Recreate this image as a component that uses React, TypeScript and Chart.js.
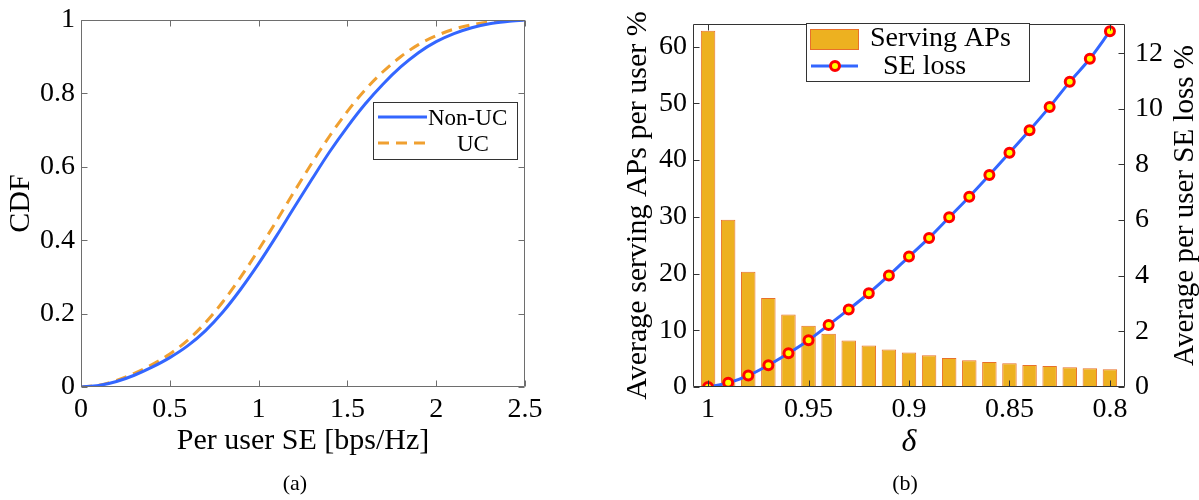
import React, { useEffect, useRef } from 'react';
import { Chart, registerables } from 'chart.js';

Chart.register(...registerables);

const FONT_FAMILY = '"Liberation Serif", "Times New Roman", Times, serif';

// ---------- (a) CDF data ----------
const seValues = [0, 0.1, 0.2, 0.3, 0.4, 0.5, 0.6, 0.7, 0.8, 0.9, 1.0, 1.1, 1.2, 1.3, 1.4, 1.5, 1.6, 1.7, 1.8, 1.9, 2.0, 2.1, 2.2, 2.3, 2.4, 2.5];
const cdfNonUC = [0, 0.004, 0.015, 0.032, 0.054, 0.08, 0.112, 0.153, 0.205, 0.267, 0.336, 0.411, 0.489, 0.566, 0.641, 0.709, 0.771, 0.825, 0.872, 0.911, 0.941, 0.963, 0.979, 0.99, 0.996, 1.0];
const cdfUC = [0, 0.005, 0.018, 0.037, 0.061, 0.09, 0.127, 0.175, 0.233, 0.3, 0.374, 0.452, 0.532, 0.61, 0.684, 0.751, 0.81, 0.859, 0.9, 0.933, 0.957, 0.975, 0.987, 0.995, 0.999, 1.0];
const cdfLabels = ['Non-UC', 'UC'];
const cdfXTicks = [0, 0.5, 1, 1.5, 2, 2.5];
const cdfXTickLabels = ['0', '0.5', '1', '1.5', '2', '2.5'];
const cdfYTicks = [0, 0.2, 0.4, 0.6, 0.8, 1];
const cdfYTickLabels = ['0', '0.2', '0.4', '0.6', '0.8', '1'];

// ---------- (b) delta data ----------
const deltas = [1, 0.99, 0.98, 0.97, 0.96, 0.95, 0.94, 0.93, 0.92, 0.91, 0.9, 0.89, 0.88, 0.87, 0.86, 0.85, 0.84, 0.83, 0.82, 0.81, 0.8];
const servingAPs = [62.8, 29.5, 20.3, 15.7, 12.8, 10.8, 9.4, 8.2, 7.3, 6.6, 6.1, 5.6, 5.1, 4.7, 4.4, 4.2, 3.9, 3.7, 3.5, 3.3, 3.15];
const seLoss = [0, 0.15, 0.41, 0.78, 1.21, 1.68, 2.23, 2.79, 3.37, 4.01, 4.69, 5.36, 6.1, 6.84, 7.62, 8.42, 9.23, 10.07, 10.97, 11.8, 12.79];
const deltaLabels = ['Serving APs', 'SE loss'];
const deltaTicks = [1, 0.95, 0.9, 0.85, 0.8];
const deltaTickLabels = ['1', '0.95', '0.9', '0.85', '0.8'];
const apTicks = [0, 10, 20, 30, 40, 50, 60];
const apTickLabels = ['0', '10', '20', '30', '40', '50', '60'];
const lossTicks = [0, 2, 4, 6, 8, 10, 12];
const lossTickLabels = ['0', '2', '4', '6', '8', '10', '12'];

const titles = {
  cdfX: 'Per user SE [bps/Hz]',
  cdfY: 'CDF',
  deltaX: 'δ',
  apY: 'Average serving APs per user %',
  lossY: 'Average per user SE loss %',
  a: '(a)',
  b: '(b)',
};

const tickFont = { family: FONT_FAMILY, size: 28, lineHeight: 1 };
const titleFont = { family: FONT_FAMILY, size: 30, lineHeight: 1 };

function labelFor(ticks: number[], labels: string[]) {
  return (v: any) => {
    const i = ticks.findIndex((t) => Math.abs(t - v) < 1e-9);
    return i >= 0 ? labels[i] : '';
  };
}

function setTicks(list: number[]) {
  return (s: any) => {
    s.ticks = list.map((v) => ({ value: v }));
  };
}

function framePlugin(cfg: {
  color: string;
  x: string;
  xTicks: number[];
  left: string;
  leftTicks: number[];
  right: string;
  rightTicks: number[];
  len: number;
}) {
  return {
    id: 'frame',
    afterDatasetsDraw(chart: any) {
      const { ctx, chartArea: a } = chart;
      const xs = chart.scales[cfg.x];
      const ls = chart.scales[cfg.left];
      const rs = chart.scales[cfg.right];
      const L = Math.round(a.left) + 0.5;
      const R = Math.round(a.right) - 0.5;
      const T = Math.round(a.top) + 0.5;
      const B = Math.round(a.bottom) - 0.5;
      ctx.save();
      ctx.strokeStyle = cfg.color;
      ctx.lineWidth = 1;
      ctx.setLineDash([]);
      ctx.beginPath();
      ctx.rect(L, T, R - L, B - T);
      for (const v of cfg.xTicks) {
        const p = Math.round(xs.getPixelForValue(v)) + 0.5;
        ctx.moveTo(p, B);
        ctx.lineTo(p, B - cfg.len);
        ctx.moveTo(p, T);
        ctx.lineTo(p, T + cfg.len);
      }
      for (const v of cfg.leftTicks) {
        const p = Math.round(ls.getPixelForValue(v)) + 0.5;
        ctx.moveTo(L, p);
        ctx.lineTo(L + cfg.len, p);
      }
      for (const v of cfg.rightTicks) {
        const p = Math.round(rs.getPixelForValue(v)) + 0.5;
        ctx.moveTo(R, p);
        ctx.lineTo(R - cfg.len, p);
      }
      ctx.stroke();
      ctx.restore();
    },
  };
}

const legendAPlugin = {
  id: 'legendA',
  afterDraw(chart: any) {
    const { ctx } = chart;
    const ds = chart.data.datasets;
    ctx.save();
    const bx = 373, by = 102, bw = 144, bh = 57;
    ctx.fillStyle = '#ffffff';
    ctx.fillRect(bx, by, bw, bh);
    ctx.strokeStyle = '#333333';
    ctx.lineWidth = 1;
    ctx.strokeRect(bx + 0.5, by + 0.5, bw, bh);
    const rows = [
      { y: 117, tx: 428 },
      { y: 143, tx: 457 },
    ];
    rows.forEach((r, i) => {
      const d = ds[i];
      ctx.strokeStyle = d.borderColor;
      ctx.lineWidth = d.borderWidth;
      ctx.setLineDash(d.borderDash || []);
      ctx.beginPath();
      ctx.moveTo(378, r.y);
      ctx.lineTo(427, r.y);
      ctx.stroke();
      ctx.setLineDash([]);
      ctx.fillStyle = '#000';
      ctx.font = `23px ${FONT_FAMILY}`;
      ctx.textBaseline = 'middle';
      ctx.textAlign = 'left';
      ctx.fillText(d.label, r.tx, r.y + 2);
    });
    ctx.restore();
  },
};

const legendBPlugin = {
  id: 'legendB',
  afterDraw(chart: any) {
    const { ctx } = chart;
    const [bar, line] = chart.data.datasets;
    ctx.save();
    const bx = 206, by = 23, bw = 223, bh = 58;
    ctx.fillStyle = '#ffffff';
    ctx.fillRect(bx, by, bw, bh);
    ctx.strokeStyle = '#333333';
    ctx.lineWidth = 1;
    ctx.strokeRect(bx + 0.5, by + 0.5, bw, bh);
    // bar swatch
    ctx.fillStyle = bar.backgroundColor;
    ctx.fillRect(210, 29, 48, 20);
    ctx.strokeStyle = bar.borderColor;
    ctx.strokeRect(210.5, 29.5, 48, 20);
    // line swatch
    ctx.strokeStyle = line.borderColor;
    ctx.lineWidth = line.borderWidth;
    ctx.beginPath();
    ctx.moveTo(211, 66);
    ctx.lineTo(258, 66);
    ctx.stroke();
    ctx.beginPath();
    ctx.arc(235, 66, line.pointRadius, 0, Math.PI * 2);
    ctx.fillStyle = line.pointBackgroundColor;
    ctx.fill();
    ctx.lineWidth = line.pointBorderWidth;
    ctx.strokeStyle = line.pointBorderColor;
    ctx.stroke();
    ctx.fillStyle = '#000';
    ctx.font = `28px ${FONT_FAMILY}`;
    ctx.textBaseline = 'middle';
    ctx.textAlign = 'left';
    ctx.fillText(bar.label, 270, 39);
    ctx.fillText(line.label, 283, 67);
    ctx.restore();
  },
};

const rightTitlePlugin = {
  id: 'rightTitle',
  afterDraw(chart: any) {
    const { ctx, chartArea: a } = chart;
    ctx.save();
    ctx.translate(585, (a.top + a.bottom) / 2);
    ctx.rotate(-Math.PI / 2);
    ctx.fillStyle = '#000';
    ctx.font = `29px ${FONT_FAMILY}`;
    ctx.textAlign = 'center';
    ctx.textBaseline = 'middle';
    ctx.fillText(titles.lossY, 0, 0);
    ctx.restore();
  },
};

function configA(): any {
  return {
    type: 'line',
    data: {
      datasets: [
        {
          label: cdfLabels[0],
          data: seValues.map((x, i) => ({ x, y: cdfNonUC[i] })),
          borderColor: '#3366FF',
          borderWidth: 3,
          pointRadius: 0,
          cubicInterpolationMode: 'monotone',
          fill: false,
        },
        {
          label: cdfLabels[1],
          data: seValues.map((x, i) => ({ x, y: cdfUC[i] })),
          borderColor: '#F0A030',
          borderWidth: 3,
          borderDash: [11, 7],
          pointRadius: 0,
          cubicInterpolationMode: 'monotone',
          fill: false,
        },
      ],
    },
    options: {
      responsive: false,
      animation: false,
      devicePixelRatio: 1,
      layout: { padding: { left: 0, right: 75, top: 15, bottom: 0 } },
      plugins: { legend: { display: false }, tooltip: { enabled: false } },
      scales: {
        x: {
          type: 'linear',
          min: 0,
          max: 2.5,
          grid: { display: false, drawTicks: false },
          border: { display: false },
          afterBuildTicks: setTicks(cdfXTicks),
          ticks: {
            callback: labelFor(cdfXTicks, cdfXTickLabels),
            font: tickFont,
            color: '#000',
            padding: 9,
            maxRotation: 0,
            autoSkip: false,
          },
          title: { display: true, text: titles.cdfX, font: titleFont, color: '#000', padding: { top: 0, bottom: 44 } },
          afterFit: (s: any) => {
            s.height = 113;
          },
        },
        y: {
          type: 'linear',
          min: 0,
          max: 1,
          grid: { display: false, drawTicks: false },
          border: { display: false },
          afterBuildTicks: setTicks(cdfYTicks),
          ticks: {
            callback: labelFor(cdfYTicks, cdfYTickLabels),
            font: tickFont,
            color: '#000',
            padding: 6,
            autoSkip: false,
          },
          title: { display: true, text: titles.cdfY, font: titleFont, color: '#000', padding: { top: 6, bottom: 0 } },
          afterFit: (s: any) => {
            s.width = 81;
          },
        },
      },
    },
    plugins: [
      framePlugin({ color: '#6e6e6e', x: 'x', xTicks: cdfXTicks, left: 'y', leftTicks: cdfYTicks, right: 'y', rightTicks: cdfYTicks, len: 6 }),
      legendAPlugin,
    ],
  };
}

function configB(): any {
  return {
    type: 'bar',
    data: {
      datasets: [
        {
          type: 'bar',
          label: deltaLabels[0],
          data: deltas.map((x, i) => ({ x, y: servingAPs[i] })),
          backgroundColor: '#EDB120',
          borderColor: '#E8702A',
          borderWidth: 1,
          barPercentage: 0.9,
          categoryPercentage: 0.8,
          yAxisID: 'y',
          order: 2,
        },
        {
          type: 'line',
          label: deltaLabels[1],
          data: deltas.map((x, i) => ({ x, y: seLoss[i] })),
          borderColor: '#3366FF',
          borderWidth: 3,
          pointRadius: 4.5,
          pointBorderWidth: 3,
          pointBackgroundColor: '#FFFF00',
          pointBorderColor: '#FF0000',
          cubicInterpolationMode: 'monotone',
          yAxisID: 'y1',
          order: 1,
          clip: 0,
        },
      ],
    },
    options: {
      responsive: false,
      animation: false,
      devicePixelRatio: 1,
      layout: { padding: { left: 0, right: 0, top: 15, bottom: 0 } },
      plugins: { legend: { display: false }, tooltip: { enabled: false } },
      scales: {
        x: {
          type: 'linear',
          reverse: true,
          min: 0.7925,
          max: 1.0075,
          offset: false,
          grid: { display: false, drawTicks: false, offset: false },
          border: { display: false },
          afterBuildTicks: setTicks(deltaTicks),
          ticks: {
            callback: labelFor(deltaTicks, deltaTickLabels),
            font: tickFont,
            color: '#000',
            padding: 9,
            maxRotation: 0,
            autoSkip: false,
          },
          title: {
            display: true,
            text: titles.deltaX,
            font: { family: FONT_FAMILY, size: 32, style: 'italic', lineHeight: 1 },
            color: '#000',
            padding: { top: 0, bottom: 41 },
          },
          afterFit: (s: any) => {
            s.height = 113;
          },
        },
        y: {
          type: 'linear',
          position: 'left',
          min: 0,
          max: 64,
          grid: { display: false, drawTicks: false },
          border: { display: false },
          afterBuildTicks: setTicks(apTicks),
          ticks: {
            callback: labelFor(apTicks, apTickLabels),
            font: tickFont,
            color: '#000',
            padding: 6,
            autoSkip: false,
          },
          title: { display: true, text: titles.apY, font: titleFont, color: '#000', padding: { top: 23, bottom: 0 } },
          afterFit: (s: any) => {
            s.width = 93;
          },
        },
        y1: {
          type: 'linear',
          position: 'right',
          min: 0,
          max: 13.05,
          grid: { display: false, drawTicks: false },
          border: { display: false },
          afterBuildTicks: setTicks(lossTicks),
          ticks: {
            callback: labelFor(lossTicks, lossTickLabels),
            font: tickFont,
            color: '#000',
            padding: 10,
            autoSkip: false,
          },
          title: { display: false },
          afterFit: (s: any) => {
            s.width = 74;
          },
        },
      },
    },
    plugins: [
      framePlugin({ color: '#333333', x: 'x', xTicks: deltaTicks, left: 'y', leftTicks: apTicks, right: 'y1', rightTicks: lossTicks, len: 6 }),
      legendBPlugin,
      rightTitlePlugin,
    ],
  };
}

export default function App() {
  const refA = useRef<HTMLCanvasElement>(null);
  const refB = useRef<HTMLCanvasElement>(null);

  useEffect(() => {
    const cA = new Chart(refA.current as HTMLCanvasElement, configA());
    const cB = new Chart(refB.current as HTMLCanvasElement, configB());
    return () => {
      cA.destroy();
      cB.destroy();
    };
  }, []);

  const capStyle: React.CSSProperties = {
    position: 'absolute',
    top: 471,
    width: 100,
    textAlign: 'center',
    fontSize: 22,
    lineHeight: '24px',
    color: '#000',
    fontFamily: FONT_FAMILY,
  };

  return (
    <div style={{ position: 'absolute', left: 0, top: 0, width: 1199, height: 500, background: '#fff', overflow: 'hidden' }}>
      <canvas ref={refA} width={600} height={500} style={{ position: 'absolute', left: 0, top: 0, width: 600, height: 500 }} />
      <canvas ref={refB} width={599} height={500} style={{ position: 'absolute', left: 600, top: 0, width: 599, height: 500 }} />
      <div style={{ ...capStyle, left: 245 }}>{titles.a}</div>
      <div style={{ ...capStyle, left: 855 }}>{titles.b}</div>
    </div>
  );
}
